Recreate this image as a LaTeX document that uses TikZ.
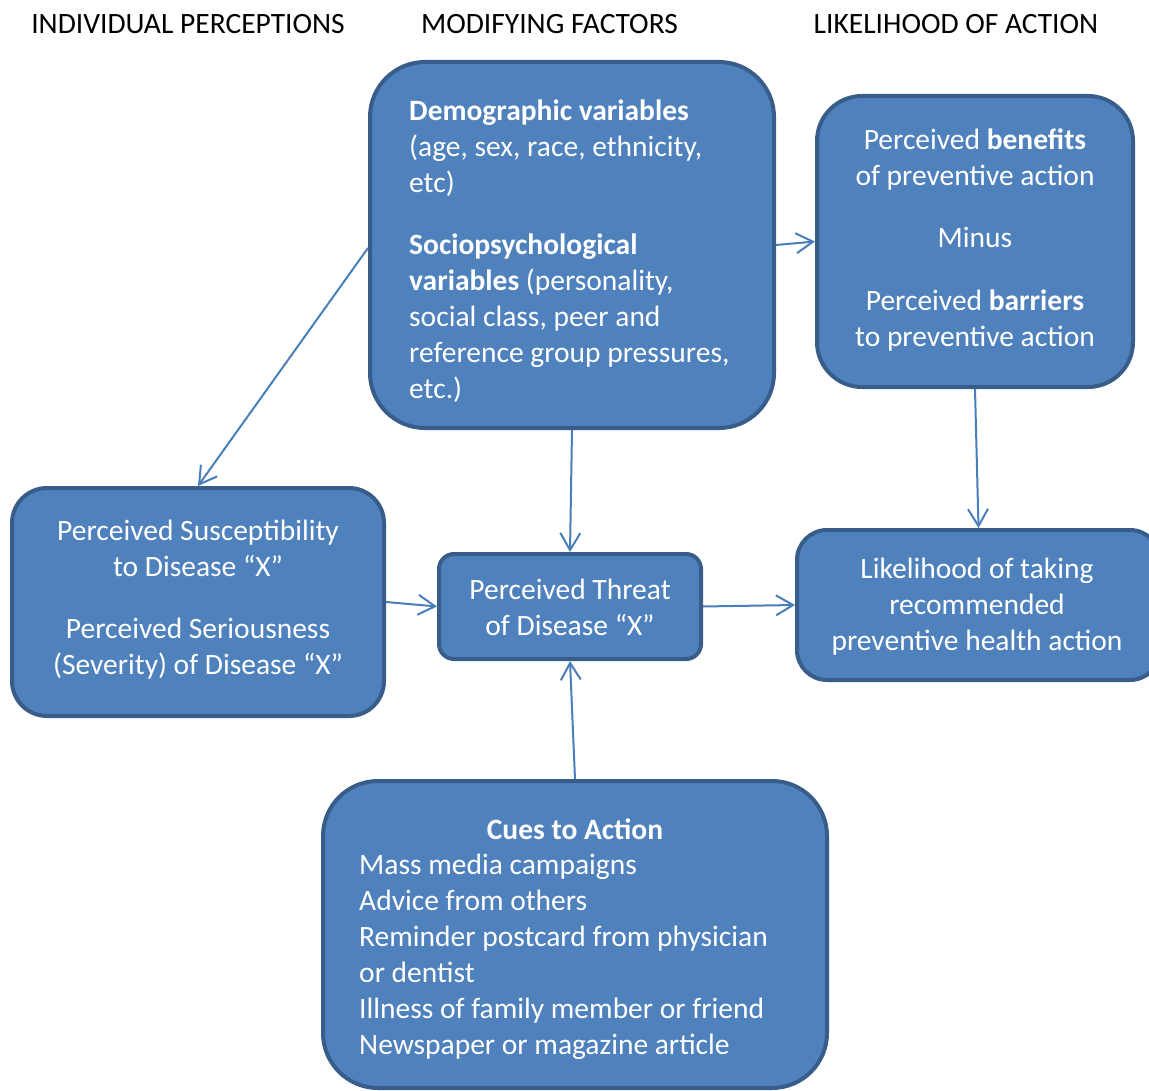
\documentclass[tikz,border=0pt]{standalone}
\usepackage{fontspec}
\setmainfont{Carlito}
\usetikzlibrary{arrows.meta}
\definecolor{boxfill}{HTML}{4F81BD}
\definecolor{boxline}{HTML}{385D8A}
\definecolor{arrowcol}{HTML}{4A7EBB}
\tikzset{
  box/.style={draw=boxline, line width=4pt, fill=boxfill, inner sep=0pt, rectangle},
  txt/.style={text=white, inner sep=0pt, font=\fontsize{29.5}{36}\selectfont},
  hdr/.style={text=black, inner sep=0pt, anchor=base, font=\fontsize{29.5}{36}\selectfont},
  conn/.style={draw=arrowcol, line width=2pt, -{Straight Barb[length=17pt,width=20pt,line width=2pt]}}
}
\begin{document}
\begin{tikzpicture}[x=1pt,y=-1pt]
\useasboundingbox (0,0) rectangle (1149,1091);
% headers
\node[hdr] (h1) at (188,33.5) {INDIVIDUAL PERCEPTIONS};
\node[hdr] (h2) at (549.5,33.5) {MODIFYING FACTORS};
\node[hdr] (h3) at (956,33.5) {LIKELIHOOD OF ACTION};
% boxes
\node[box, minimum width=404pt, minimum height=366pt, rounded corners=55pt] (demo) at (572,245) {};
\node[box, minimum width=316pt, minimum height=291pt, rounded corners=45pt] (ben) at (975,241.5) {};
\node[box, minimum width=372pt, minimum height=228pt, rounded corners=35pt] (susc) at (198,602) {};
\node[box, minimum width=262pt, minimum height=105pt, rounded corners=15pt] (threat) at (570,606.5) {};
\node[box, minimum width=363pt, minimum height=150pt, rounded corners=30pt] (lik) at (978.5,605) {};
\node[box, minimum width=504pt, minimum height=307pt, rounded corners=55pt] (cues) at (575,934.5) {};
% texts (anchor = baseline of the last line)
\node[txt, anchor=base west, align=left] (demotxt) at (409,398.5)
  {\textbf{Demographic variables}\\(age, sex, race, ethnicity,\\etc)\\[26pt]
   \textbf{Sociopsychological}\\\textbf{variables} (personality,\\social class, peer and\\reference group pressures,\\etc.)};
\node[txt, anchor=base, align=center] (bentxt) at (975,346.5)
  {Perceived \textbf{benefits}\\of preventive action\\[26pt]Minus\\[27pt]Perceived \textbf{barriers}\\to preventive action};
\node[txt, anchor=base, align=center] (susctxt) at (198,674.5)
  {Perceived Susceptibility\\to Disease “X”\\[26pt]Perceived Seriousness\\(Severity) of Disease “X”};
\node[txt, anchor=base, align=center] (threattxt) at (570,635.5)
  {Perceived Threat\\of Disease “X”};
\node[txt, anchor=base, align=center] (liktxt) at (977,650.5)
  {Likelihood of taking\\recommended\\preventive health action};
\node[txt, anchor=base] (cuestitle) at (575,839.5) {\textbf{Cues to Action}};
\node[txt, anchor=base west, align=left] (cuestxt) at (359,1054.5)
  {Mass media campaigns\\Advice from others\\Reminder postcard from physician\\or dentist\\Illness of family member or friend\\Newspaper or magazine article};
% connectors
\draw[conn] ([yshift=-3pt]demo.west) -- (susc.north);
\draw[conn] (demo.south) -- (threat.north);
\draw[conn] (demo.east) -- (ben.west);
\draw[conn] (ben.south) -- (lik.north);
\draw[conn] (susc.east) -- (threat.west);
\draw[conn] (threat.east) -- (lik.west);
\draw[conn] (cues.north) -- (threat.south);
\end{tikzpicture}
\end{document}
